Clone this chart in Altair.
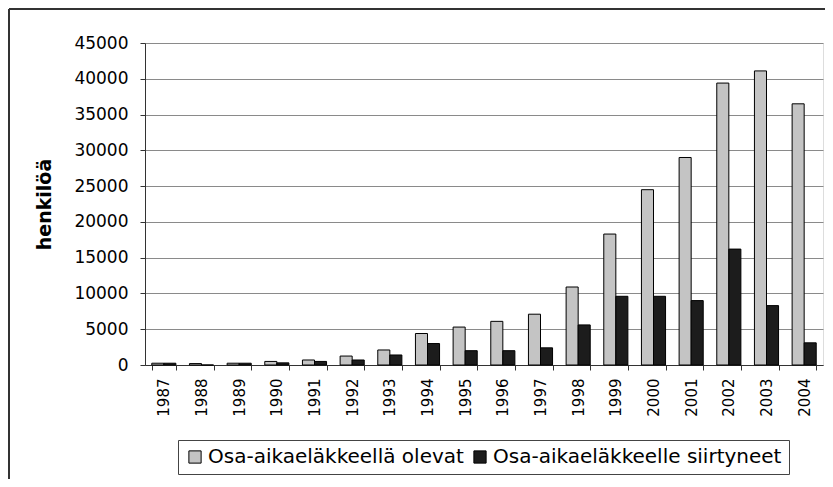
import altair as alt
import pandas as pd

years = [str(y) for y in range(1987, 2005)]
series_names = ["Osa-aikaeläkkeellä olevat", "Osa-aikaeläkkeelle siirtyneet"]
olevat = [250, 200, 250, 500, 700, 1250, 2100, 4400, 5300, 6100, 7100, 10900,
          18300, 24500, 29000, 39400, 41100, 36500]
siirtyneet = [250, 0, 250, 300, 500, 700, 1400, 3000, 2000, 2000, 2400, 5600,
              9600, 9600, 9000, 16200, 8300, 3100]
y_ticks = list(range(0, 45001, 5000))
colors = ["#c4c4c4", "#1c1c1c"]

rows = []
for i, yr in enumerate(years):
    rows.append({"year": yr, "series": series_names[0], "value": olevat[i]})
    rows.append({"year": yr, "series": series_names[1], "value": siirtyneet[i]})
df = pd.DataFrame(rows)

W, H = 678, 322
FONT = "DejaVu Sans"

bars = alt.Chart(df).mark_bar(stroke="black", strokeWidth=1).encode(
    x=alt.X("year:N", sort=years, title=None,
            scale=alt.Scale(paddingInner=0.36, paddingOuter=0.18),
            axis=alt.Axis(labelAngle=-90, labelFont=FONT, labelFontSize=15,
                          labelColor="black", tickBand="extent", tickSize=5,
                          tickColor="#333", domainColor="#333", labelPadding=8,
                          grid=False)),
    xOffset=alt.XOffset("series:N", sort=series_names,
                        scale=alt.Scale(paddingInner=0, paddingOuter=0)),
    y=alt.Y("value:Q", scale=alt.Scale(domain=[0, 45000]),
            axis=alt.Axis(values=y_ticks, format="d", title="henkilöä",
                          labelFont=FONT, labelFontSize=17, labelColor="black",
                          tickSize=5, tickColor="#333", domainColor="#333",
                          labelPadding=12, gridColor="#8a8a8a", gridWidth=1,
                          titleFont=FONT, titleFontSize=19, titleFontWeight="bold",
                          titleColor="black", titleAngle=-90,
                          titleX=-101, titleY=H / 2, titleAlign="center",
                          titleBaseline="middle")),
    color=alt.Color("series:N", sort=series_names,
                    scale=alt.Scale(domain=series_names, range=colors),
                    legend=alt.Legend(orient="none", legendX=33, legendY=397,
                                      direction="horizontal", title=None,
                                      strokeColor="#444", fillColor="white",
                                      padding=7, symbolType="square",
                                      symbolSize=150, symbolStrokeColor="black",
                                      symbolStrokeWidth=1, labelFont=FONT,
                                      labelFontSize=20, labelColor="black",
                                      labelLimit=0, columnPadding=6,
                                      labelOffset=3)),
)

one = pd.DataFrame({"a": [0]})
frame_top = alt.Chart(one).mark_rule(color="#333", strokeWidth=2).encode(
    x=alt.value(-136), x2=alt.value(W + 2), y=alt.value(-34))
frame_left = alt.Chart(one).mark_rule(color="#333", strokeWidth=2).encode(
    x=alt.value(-136), y=alt.value(-34), y2=alt.value(H + 114))

chart = alt.layer(bars, frame_top, frame_left).properties(
    width=W, height=H,
    autosize=alt.AutoSizeParams(type="none"),
    padding={"left": 137, "top": 35, "right": 2, "bottom": 114},
).configure_view(stroke="#8a8a8a", strokeWidth=1).configure(background="white")

chart.save("out.html", embed_options={"renderer": "svg", "actions": False})
